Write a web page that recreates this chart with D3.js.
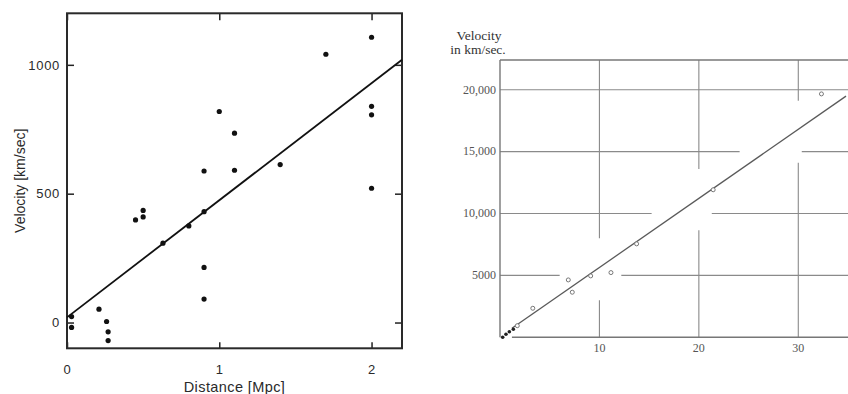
<html>
<head>
<meta charset="utf-8">
<script src="https://d3js.org/d3.v7.min.js"></script>
<style>
  body { margin: 0; background: #fff; }
</style>
</head>
<body>
<svg width="848" height="394"></svg>
<script>
// ---------------- left panel data (Hubble 1929) ----------------
const leftDist = [0.03, 0.03, 0.21, 0.26, 0.27, 0.27, 0.45, 0.5, 0.5, 0.63, 0.8, 0.9,
                  0.9, 0.9, 0.9, 1.0, 1.1, 1.1, 1.4, 1.7, 2.0, 2.0, 2.0, 2.0];
const leftVel = [23, -19, 52, 4, -36, -70, 398, 435, 410, 308, 375, 430,
                 588, 214, 91, 819, 735, 591, 613, 1041, 1107, 839, 806, 521];
const leftFit = [[0, 20], [2.2, 1020]];
const leftXTicks = [0, 1, 2];
const leftYTicks = [0, 500, 1000];

// ---------------- right panel data (Hubble & Humason 1931) ----------------
const rightDist = [1.74, 3.3, 6.87, 7.27, 9.12, 11.16, 13.74, 21.44, 32.33];
const rightVel = [938, 2346, 4636, 3641, 4960, 5227, 7549, 11917, 19660];
const clusterDist = [0.27, 0.6, 0.94, 1.34];
const clusterVel = [0, 243, 453, 647];
const rightFit = [[1.2, 730], [34.8, 19480]];
const rightXTicks = [10, 20, 30];
const rightXLabels = ["10", "20", "30"];
const rightYTicks = [5000, 10000, 15000, 20000];
const rightYLabels = ["5000", "10,000", "15,000", "20,000"];
// grid lines are broken in the printed figure: pieces kept (data units)
const hGridPieces = [[5000, 0, 6.0], [5000, 12.2, 35], [10000, 0, 15.25], [10000, 21.3, 35],
                     [15000, 0, 24.1], [15000, 30.35, 35], [20000, 0, 35]];
const vGridPieces = [[10, 0, 3000], [10, 8000, 22400], [20, 0, 8650], [20, 13600, 22400],
                     [30, 0, 14100], [30, 19100, 22400]];

var svg = d3.select("svg");

//------------------------left chart------------------------//
var xL = d3.scaleLinear().domain([0, 2.2]).range([67, 402]);
var yL = d3.scaleLinear().domain([-100, 1200]).range([348.3, 13.3]);
var left = svg.append("g").style("font-family", "'Liberation Sans', Arial, sans-serif");

function styleAxis(g) {
  g.select(".domain").remove();
  g.selectAll(".tick line").attr("stroke", "#222").attr("stroke-width", 1.5);
  g.selectAll(".tick text").attr("fill", "#2a2a2a")
    .style("font-size", "13px").style("letter-spacing", "0.7px");
}

left.append("g").attr("transform", "translate(" + xL(0) + ",0)")
  .call(d3.axisLeft(yL).tickValues(leftYTicks).tickSize(-7).tickPadding(7).tickFormat(d3.format("d")))
  .call(styleAxis);
left.append("g").attr("transform", "translate(" + xL(2.2) + ",0)")
  .call(d3.axisRight(yL).tickValues(leftYTicks).tickSize(-7).tickFormat(""))
  .call(styleAxis);
left.append("g").attr("transform", "translate(0," + yL(-100) + ")")
  .call(d3.axisBottom(xL).tickValues(leftXTicks).tickSize(-6).tickPadding(16).tickFormat(d3.format("d")))
  .call(styleAxis);
left.append("g").attr("transform", "translate(0," + yL(1200) + ")")
  .call(d3.axisTop(xL).tickValues(leftXTicks).tickSize(-7).tickFormat(""))
  .call(styleAxis);

left.append("rect")
  .attr("x", xL(0)).attr("y", yL(1200))
  .attr("width", xL(2.2) - xL(0)).attr("height", yL(-100) - yL(1200))
  .attr("fill", "none").attr("stroke", "#2a2a2a").attr("stroke-width", 2);

left.append("path")
  .datum(leftFit)
  .attr("d", d3.line().x(d => xL(d[0])).y(d => yL(d[1])))
  .attr("fill", "none").attr("stroke", "#111").attr("stroke-width", 1.8);

left.append("g").selectAll("circle")
  .data(leftDist)
  .enter().append("circle")
  .attr("cx", d => xL(d))
  .attr("cy", (d, i) => yL(leftVel[i]))
  .attr("r", 2.6)
  .attr("fill", "#111");

left.append("text")
  .attr("x", (xL(0) + xL(2.2)) / 2).attr("y", 392)
  .attr("text-anchor", "middle").attr("fill", "#2a2a2a")
  .style("font-size", "14.5px").style("letter-spacing", "0.4px")
  .text("Distance [Mpc]");
left.append("text")
  .attr("transform", "translate(25," + (yL(550)) + ") rotate(-90)")
  .attr("text-anchor", "middle").attr("fill", "#2a2a2a")
  .style("font-size", "14px")
  .text("Velocity [km/sec]");

//------------------------right chart------------------------//
var xR = d3.scaleLinear().domain([0, 35]).range([500, 848]);
var yR = d3.scaleLinear().domain([0, 22400]).range([337.3, 60]);
var right = svg.append("g").style("font-family", "'Liberation Serif', 'DejaVu Serif', serif");

right.append("g").selectAll("line.h")
  .data(hGridPieces).enter().append("line")
  .attr("x1", d => xR(d[1])).attr("x2", d => xR(d[2]))
  .attr("y1", d => yR(d[0])).attr("y2", d => yR(d[0]))
  .attr("stroke", "#8a8a8a").attr("stroke-width", 1.1);
right.append("g").selectAll("line.v")
  .data(vGridPieces).enter().append("line")
  .attr("x1", d => xR(d[0])).attr("x2", d => xR(d[0]))
  .attr("y1", d => yR(d[1])).attr("y2", d => yR(d[2]))
  .attr("stroke", "#8a8a8a").attr("stroke-width", 1.1);

// frame: left axis, top border, bottom axis
right.append("line")
  .attr("x1", xR(0)).attr("x2", xR(0)).attr("y1", yR(22400)).attr("y2", yR(0))
  .attr("stroke", "#777").attr("stroke-width", 1.4);
right.append("line")
  .attr("x1", xR(0)).attr("x2", xR(35)).attr("y1", yR(22400)).attr("y2", yR(22400))
  .attr("stroke", "#777").attr("stroke-width", 1.4);
right.append("line")
  .attr("x1", xR(1.2)).attr("x2", xR(35)).attr("y1", yR(0)).attr("y2", yR(0))
  .attr("stroke", "#777").attr("stroke-width", 1.4);

right.append("path")
  .datum(rightFit)
  .attr("d", d3.line().x(d => xR(d[0])).y(d => yR(d[1])))
  .attr("fill", "none").attr("stroke", "#5a5a5a").attr("stroke-width", 1.3);

right.append("g").selectAll("circle")
  .data(rightDist).enter().append("circle")
  .attr("cx", d => xR(d))
  .attr("cy", (d, i) => yR(rightVel[i]))
  .attr("r", 2)
  .attr("fill", "#fff").attr("stroke", "#777").attr("stroke-width", 1);

right.append("g").selectAll("circle")
  .data(clusterDist).enter().append("circle")
  .attr("cx", d => xR(d))
  .attr("cy", (d, i) => yR(clusterVel[i]))
  .attr("r", 1.8)
  .attr("fill", "#222");

right.append("g").selectAll("text")
  .data(rightYTicks).enter().append("text")
  .attr("x", xR(0) - 4).attr("y", d => yR(d)).attr("dy", "0.32em")
  .attr("text-anchor", "end").attr("fill", "#555")
  .style("font-size", "12px")
  .text((d, i) => rightYLabels[i]);

right.append("g").selectAll("text")
  .data(rightXTicks).enter().append("text")
  .attr("x", d => xR(d)).attr("y", 352)
  .attr("text-anchor", "middle").attr("fill", "#555")
  .style("font-size", "12px")
  .text((d, i) => rightXLabels[i]);

right.append("text")
  .attr("x", 479).attr("y", 40)
  .attr("text-anchor", "middle").attr("fill", "#333")
  .style("font-size", "13.5px")
  .text("Velocity");
right.append("text")
  .attr("x", 478).attr("y", 54)
  .attr("text-anchor", "middle").attr("fill", "#333")
  .style("font-size", "13.5px")
  .text("in km/sec.");
</script>
</body>
</html>
